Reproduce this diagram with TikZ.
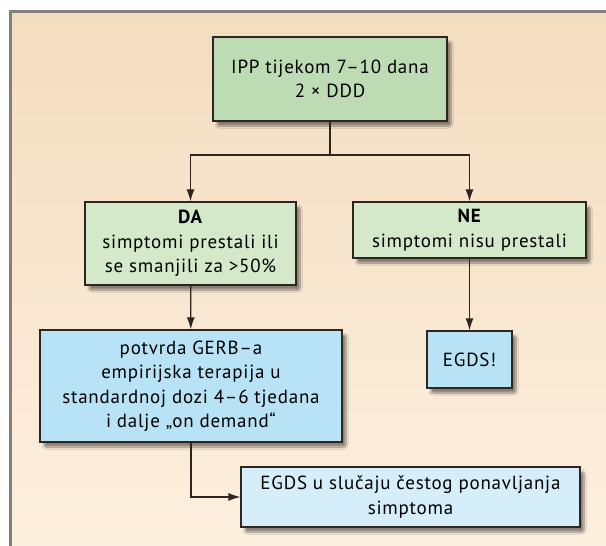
\documentclass[tikz,border=0pt]{standalone}
\usepackage{fontspec}
\setmainfont{PT Sans}[LetterSpace=4]
\usetikzlibrary{arrows.meta,shadows.blur}
\definecolor{bgtop}{HTML}{F3DDBF}
\definecolor{bgbot}{HTML}{FDEFDF}
\definecolor{greenA}{HTML}{BEDCB4}
\definecolor{greenB}{HTML}{D4E8CA}
\definecolor{blueA}{HTML}{B8E2F5}
\definecolor{blueB}{HTML}{D6EEFA}
\definecolor{edge}{HTML}{2E2420}
\begin{document}
\begin{tikzpicture}[x=1pt, y=-1pt, font=\fontsize{19}{24.5}\selectfont,
  box/.style = {draw=edge, line width=1.2pt, align=center, inner sep=0pt,
    blur shadow={shadow xshift=4pt, shadow yshift=-5pt, shadow opacity=45, shadow blur steps=10, shadow blur extra rounding=2pt}},
  arr/.style = {draw=edge, line width=1.3pt, -{Latex[length=12pt, width=8pt]}}]
\useasboundingbox (0,0) rectangle (606,546);
% background frame
\shade[top color=bgtop, bottom color=bgbot] (10,11) rectangle (606,546);
\draw[gray, line width=3pt] (10.5,546) -- (10.5,11.5) -- (606,11.5);
\node[box, fill=greenA, minimum width=234, minimum height=84] (top) at (330,79) {IPP tijekom 7–10 dana\\2 × DDD};
\node[box, fill=greenB, minimum width=211, minimum height=83] (da) at (190.5,243.5) {\textbf{DA}\\simptomi prestali ili\\se smanjili za >50\%};
\node[box, fill=greenB, minimum width=233, minimum height=56] (ne) at (469.5,230) {\textbf{NE}\\simptomi nisu prestali};
\node[box, fill=blueA, minimum width=302, minimum height=112] (potvrda) at (191,386) {potvrda GERB–a\\empirijska terapija u\\standardnoj dozi 4–6 tjedana\\i dalje „on demand“};
\node[box, fill=blueA, minimum width=85, minimum height=57] (egds) at (469.5,359.5) {EGDS!};
\node[box, fill=blueB, minimum width=339, minimum height=60] (ponavljanje) at (410.5,497) {EGDS u slučaju čestog ponavljanja\\simptoma};
\coordinate (fork) at (330,155);
\draw[draw=edge, line width=1.3pt] (top.south) -- (fork);
\draw[arr] (fork) -| (da.north);
\draw[arr] (fork) -| (ne.north);
\draw[arr] (da) -- (potvrda);
\draw[arr] (ne) -- (egds);
\draw[arr] (potvrda.south) |- (ponavljanje.west);
\end{tikzpicture}
\end{document}
